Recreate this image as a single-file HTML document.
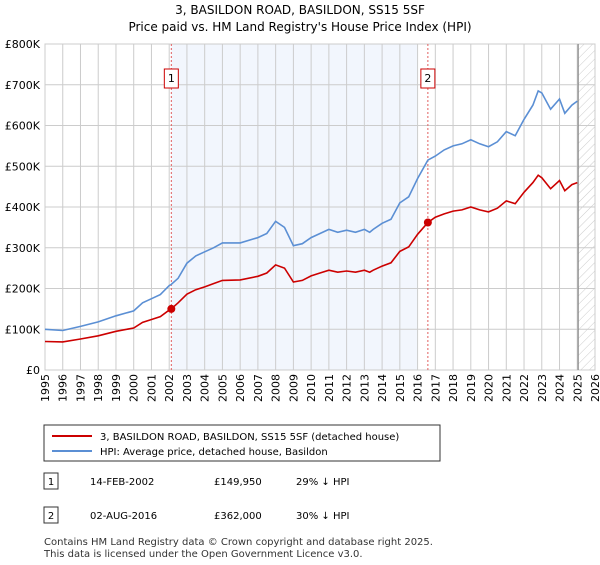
<!DOCTYPE html>
<html><head><meta charset="utf-8"><style>
body{margin:0;background:#fff;font-family:"Liberation Sans","DejaVu Sans",sans-serif;}
svg text{font-family:"DejaVu Sans","Liberation Sans",sans-serif;}
</style></head><body>
<svg id="c" width="600" height="560" viewBox="0 0 600 560">
<defs><pattern id="hatch" width="6" height="6" patternUnits="userSpaceOnUse" patternTransform="rotate(45)"><line x1="0" y1="0" x2="0" y2="6" stroke="#ccc" stroke-width="1"/></pattern></defs>
<text x="300" y="14" text-anchor="middle" font-size="12">3, BASILDON ROAD, BASILDON, SS15 5SF</text>
<text x="300" y="31" text-anchor="middle" font-size="12">Price paid vs. HM Land Registry's House Price Index (HPI)</text>
<g id="plot"></g>
<g>
<rect x="44" y="425" width="396" height="36" fill="#fff" stroke="#333" stroke-width="1"/>
<line x1="52" y1="436" x2="92" y2="436" stroke="#cc0000" stroke-width="2"/>
<text x="100" y="440" font-size="10">3, BASILDON ROAD, BASILDON, SS15 5SF (detached house)</text>
<line x1="52" y1="451" x2="92" y2="451" stroke="#5b8fd4" stroke-width="2"/>
<text x="100" y="455" font-size="10">HPI: Average price, detached house, Basildon</text>
</g>
<g>
<rect x="44" y="473" width="14" height="16" fill="#fff" stroke="#333"/>
<text x="51" y="485" text-anchor="middle" font-size="10">1</text>
<text x="90" y="485" font-size="10">14-FEB-2002</text>
<text x="214" y="485" font-size="10">£149,950</text>
<text x="296" y="485" font-size="10">29% ↓ HPI</text>
<rect x="44" y="507" width="14" height="16" fill="#fff" stroke="#333"/>
<text x="51" y="519" text-anchor="middle" font-size="10">2</text>
<text x="90" y="519" font-size="10">02-AUG-2016</text>
<text x="214" y="519" font-size="10">£362,000</text>
<text x="296" y="519" font-size="10">30% ↓ HPI</text>
</g>
<text x="44" y="545" font-size="10" fill="#333">Contains HM Land Registry data © Crown copyright and database right 2025.</text>
<text x="44" y="557" font-size="10" fill="#333">This data is licensed under the Open Government Licence v3.0.</text>
</svg>
<script>
const dates=[1995,1996,1997,1998,1999,2000,2000.5,2001,2001.5,2002,2002.12,2002.5,2003,2003.5,2004,2004.5,2005,2006,2007,2007.5,2008,2008.5,2009,2009.5,2010,2010.5,2011,2011.5,2012,2012.5,2013,2013.3,2013.5,2014,2014.5,2015,2015.5,2016,2016.58,2017,2017.5,2018,2018.5,2019,2019.5,2020,2020.5,2021,2021.5,2022,2022.5,2022.8,2023,2023.5,2024,2024.3,2024.7,2025];
const hpiValues=[100,97,107,118,133,145,165,175,185,207,210,225,262,280,290,300,312,312,325,335,365,350,305,310,325,335,345,338,343,338,345,338,345,360,370,410,425,470,515,525,540,550,555,565,555,548,560,585,575,615,650,685,680,640,665,630,650,660];
const priceValues=[70,69,76,84,95,103,117,124,131,147,150,165,186,197,204,212,220,221,230,238,258,250,216,220,231,238,245,240,243,240,245,240,245,255,263,291,302,333,362,375,383,390,393,400,393,388,397,415,408,436,460,478,472,445,465,440,455,460];
const yTicks=[0,100,200,300,400,500,600,700,800];
const yTickLabels=["£0","£100K","£200K","£300K","£400K","£500K","£600K","£700K","£800K"];
const saleDates=[2002.12,2016.58];
const salePrices=[149.95,362];
const saleLabels=["1","2"];
const L=45,R=595,T=44,B=370,X0=1995,X1=2026,Ymax=800;
const xs=v=>L+(v-X0)/(X1-X0)*(R-L);
const ys=v=>B-v/Ymax*(B-T);
const NS="http://www.w3.org/2000/svg";
const g=document.getElementById('plot');
function mk(tag,attrs,parent){const e=document.createElementNS(NS,tag);for(const k in attrs)e.setAttribute(k,attrs[k]);(parent||g).appendChild(e);return e;}
let e;
e=mk('rect',{x:xs(saleDates[0]),y:T,width:xs(2016)-xs(saleDates[0]),height:B-T,fill:'#f2f6fd'});


e=mk('rect',{x:xs(2025.05),y:T,width:R-xs(2025.05),height:B-T,fill:'url(#hatch)'});


for(let y=X0;y<=X1;y++){
 e=mk('line',{x1:xs(y),x2:xs(y),y1:T,y2:B,stroke:'#ccc','stroke-width':1});
 
 
 e=mk('text',{x:0,y:0,'font-size':11,'text-anchor':'end',transform:`translate(${xs(y)+4},${B+4}) rotate(-90)`});
 e.textContent=y;
 
 
}
yTicks.forEach((v,i)=>{
 e=mk('line',{x1:L,x2:R,y1:ys(v),y2:ys(v),stroke:'#ccc','stroke-width':1});
 
 
 e=mk('text',{x:L-5,y:ys(v)+4,'font-size':11,'text-anchor':'end'});
 e.textContent=yTickLabels[i];
 
 
});
e=mk('rect',{x:L,y:T,width:R-L,height:B-T,fill:'none',stroke:'#ccc'});


e=mk('line',{x1:xs(2025.05),x2:xs(2025.05),y1:T,y2:B,stroke:'#888','stroke-width':1.2});


saleDates.forEach((d,i)=>{
 e=mk('line',{x1:xs(d),x2:xs(d),y1:T,y2:B,stroke:'#e06060','stroke-width':1,'stroke-dasharray':'2,2'});
 
 
 e=mk('rect',{x:xs(d)-7,y:69,width:14,height:19,fill:'#fff',stroke:'#cc0000'});
 
 
 e=mk('text',{x:xs(d),y:82,'font-size':11,'text-anchor':'middle'});
 e.textContent=saleLabels[i];
 
 
});
const pts=a=>dates.map((d,i)=>xs(d).toFixed(1)+','+ys(a[i]).toFixed(1)).join(' ');
e=mk('polyline',{points:pts(hpiValues),fill:'none',stroke:'#5b8fd4','stroke-width':1.6});


e=mk('polyline',{points:pts(priceValues),fill:'none',stroke:'#cc0000','stroke-width':1.6});


saleDates.forEach((d,i)=>{
 e=mk('circle',{cx:xs(d),cy:ys(salePrices[i]),r:4,fill:'#cc0000'});
 
 
});
</script>
</body></html>
